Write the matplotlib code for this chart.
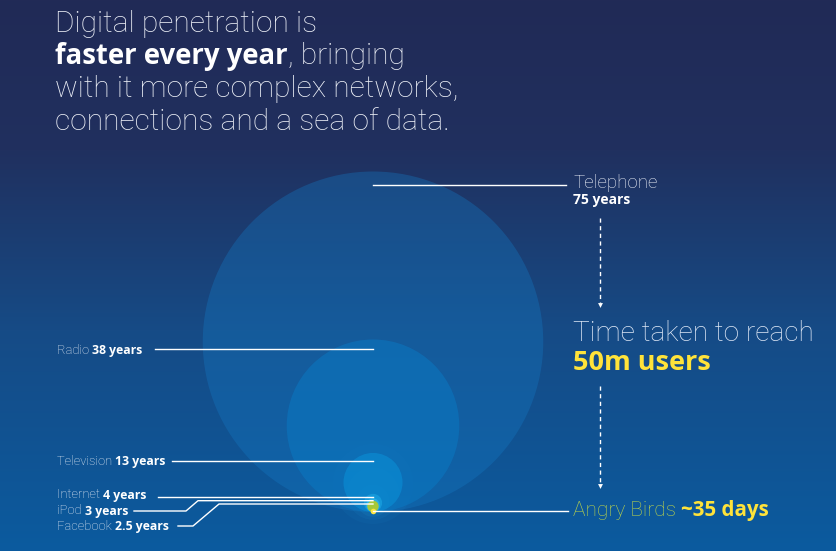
import numpy as np
import matplotlib
matplotlib.use("Agg")
import matplotlib.pyplot as plt
from matplotlib.patches import Circle
from matplotlib.colors import to_rgb

# ---------------- data ----------------
names = ["Telephone", "Radio", "Television", "Internet", "iPod", "Facebook"]
years = [75, 38, 13, 4, 3, 2.5]
value_labels = ["75 years", "38 years", "13 years", "4 years", "3 years", "2.5 years"]
angry_name = "Angry Birds"
angry_days = 35
angry_label = "~35 days"

title_lines = ["Digital penetration is", "faster every year", ", bringing",
               "with it more complex networks,", "connections and a sea of data."]
side_title = ["Time taken to reach", "50m users"]

# ---------------- layout / style ----------------
W, H = 837, 551
cx, base = 373, 512          # circles share a common bottom point
scale = 2.27                 # px radius per year
circle_colors = ["#1479c4", "#0a78c2", "#0a8fd6", "#1aa2e0", "#2db4ea", "#a6c83a"]
circle_alphas = [0.35, 0.55, 0.6, 0.7, 0.8, 1.0]

LIGHT = dict(family=["Roboto", "DejaVu Sans"], fontweight="light")
BOLD = dict(family=["Open Sans", "DejaVu Sans"], fontweight="bold")

fig = plt.figure(figsize=(W / 100, H / 100), dpi=100)
ax = fig.add_axes([0, 0, 1, 1])
ax.set_xlim(0, W)
ax.set_ylim(H, 0)
ax.axis("off")

# background gradient
stops_y = [0, 150, 330, 551]
stops_c = [to_rgb("#212a56"), to_rgb("#20305f"), to_rgb("#164b86"), to_rgb("#0b5b9f")]
yy = np.arange(H)
grad = np.zeros((H, 1, 3))
for k in range(3):
    grad[:, 0, k] = np.interp(yy, stops_y, [c[k] for c in stops_c])
ax.imshow(grad, extent=[0, W, H, 0], aspect="auto", zorder=0)

# soft glow near the small circles
for rr, a in [(40, 0.05), (26, 0.07), (16, 0.1)]:
    ax.add_patch(Circle((cx, base - rr * 0.7), rr, color="#2ab0f0", alpha=a, lw=0, zorder=1))

# circles
for i, y in enumerate(years):
    r = y * scale
    ax.add_patch(Circle((cx, base - r), r, facecolor=circle_colors[i],
                        alpha=circle_alphas[i], lw=0, zorder=2 + i))
# angry birds dot
ax.plot([cx], [base - 1], "o", ms=4, color="#ffe640", mec="none", zorder=10)

lc = "white"
lw = 1.0
# telephone leader
ax.plot([cx, 566], [185, 185], color=lc, lw=lw, zorder=11)
ax.text(573, 188, names[0], color="#eef2fa", fontsize=13.5, ha="left", va="baseline", **LIGHT)
ax.text(573, 204, value_labels[0], color="white", fontsize=10, ha="left", va="baseline", **BOLD)

# Radio, TV, Internet leaders (straight)
left_specs = [(1, 349, 155), (2, 460.5, 172), (3, 496.5, 158)]
for idx, ly, x0 in left_specs:
    ax.plot([x0, cx], [ly, ly], color=lc, lw=lw, zorder=11)
# iPod and Facebook leaders (bent)
ax.plot([134, 186, 198, cx], [511, 511, 500.7, 500.7], color=lc, lw=lw, zorder=11)
ax.plot([178, 193, 219, cx], [526, 526, 504, 504], color=lc, lw=lw, zorder=11)

fig.canvas.draw()
rend = fig.canvas.get_renderer()

def two_part(x, y, a, b, size, ca="white", cb="white", fa=LIGHT, fb=BOLD, sb=None):
    t1 = ax.text(x, y, a, color=ca, fontsize=size, ha="left", va="baseline", zorder=12, **fa)
    wdt = t1.get_window_extent(renderer=rend).width
    ax.text(x + wdt, y, b, color=cb, fontsize=sb or size, ha="left", va="baseline", zorder=12, **fb)

label_y = [None, 354, 465, 498.5, 514.5, 530]
for i in range(1, 6):
    two_part(57, label_y[i], names[i] + " ", value_labels[i], 9.3, ca="#e6ecf6", sb=8.8)

# Angry birds leader and label
ax.plot([cx, 568], [511, 511], color=lc, lw=lw, zorder=11)
two_part(573, 516, angry_name + " ", angry_label, 15, ca="#b9d24c", cb="#ffe33a", sb=14.8)

# dashed arrows
for y0, y1 in [(218, 303), (386, 484)]:
    ax.plot([600, 600], [y0, y1], color="white", lw=1, dashes=(3, 2.5), zorder=11)
    ax.plot([600], [y1 + 2], marker="v", ms=3.5, color="white", mec="none", zorder=11)

# side title
ax.text(573, 341, side_title[0], color="#dfe8f6", fontsize=20.2, ha="left", va="baseline", **LIGHT)
ax.text(573, 370, side_title[1], color="#ffe33a", fontsize=19.5, ha="left", va="baseline", **BOLD)

# main title
TS = 21.6
ax.text(55, 32, title_lines[0], color="#eef1f8", fontsize=TS, ha="left", va="baseline", **LIGHT)
t_b = ax.text(55, 64, title_lines[1], color="white", fontsize=19.8, ha="left", va="baseline", zorder=12, **BOLD)
wb = t_b.get_window_extent(renderer=rend).width
ax.text(55 + wb, 64, title_lines[2], color="#eef1f8", fontsize=TS, ha="left", va="baseline", zorder=12, **LIGHT)
ax.text(55, 97, title_lines[3], color="#eef1f8", fontsize=TS, ha="left", va="baseline", **LIGHT)
ax.text(55, 130, title_lines[4], color="#eef1f8", fontsize=TS, ha="left", va="baseline", **LIGHT)

fig.savefig("out.png", dpi=100)
